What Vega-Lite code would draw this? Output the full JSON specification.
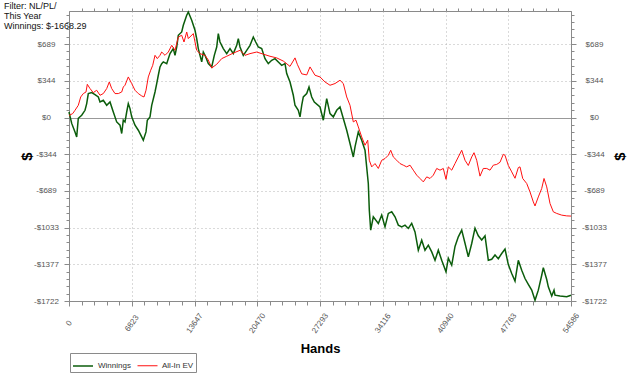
{
  "$schema": "https://vega.github.io/schema/vega-lite/v6.json",
  "width": 502,
  "height": 290,
  "autosize": {"type": "none"},
  "padding": {"left": 69, "top": 11, "right": 69, "bottom": 81},
  "background": "white",
  "title": {
    "text": ["Filter: NL/PL/", "This Year", "Winnings: $-1668.29"],
    "anchor": "start",
    "frame": "group",
    "orient": "top",
    "baseline": "bottom",
    "offset": 0,
    "dy": 32,
    "dx": -65,
    "font": "Liberation Sans",
    "fontSize": 9,
    "fontWeight": "normal",
    "color": "#111",
    "lineHeight": 10
  },
  "datasets": {
    "series": [
      {"h":0,"v":52,"s":"Winnings"},{"h":294,"v":-55,"s":"Winnings"},{"h":652,"v":-135,"s":"Winnings"},{"h":837,"v":-182,"s":"Winnings"},{"h":1011,"v":-7,"s":"Winnings"},{"h":1381,"v":22,"s":"Winnings"},{"h":1740,"v":68,"s":"Winnings"},{"h":1925,"v":131,"s":"Winnings"},{"h":2099,"v":225,"s":"Winnings"},{"h":2468,"v":234,"s":"Winnings"},{"h":2827,"v":216,"s":"Winnings"},{"h":3186,"v":193,"s":"Winnings"},{"h":3371,"v":146,"s":"Winnings"},{"h":3730,"v":162,"s":"Winnings"},{"h":4100,"v":115,"s":"Winnings"},{"h":4459,"v":146,"s":"Winnings"},{"h":4817,"v":52,"s":"Winnings"},{"h":5187,"v":-41,"s":"Winnings"},{"h":5546,"v":-72,"s":"Winnings"},{"h":5731,"v":-150,"s":"Winnings"},{"h":5905,"v":-25,"s":"Winnings"},{"h":6089,"v":-41,"s":"Winnings"},{"h":6274,"v":52,"s":"Winnings"},{"h":6448,"v":131,"s":"Winnings"},{"h":6633,"v":84,"s":"Winnings"},{"h":6818,"v":6,"s":"Winnings"},{"h":7177,"v":-72,"s":"Winnings"},{"h":7536,"v":-119,"s":"Winnings"},{"h":7905,"v":-182,"s":"Winnings"},{"h":8079,"v":-213,"s":"Winnings"},{"h":8373,"v":-135,"s":"Winnings"},{"h":8514,"v":-25,"s":"Winnings"},{"h":8808,"v":6,"s":"Winnings"},{"h":8993,"v":115,"s":"Winnings"},{"h":9352,"v":240,"s":"Winnings"},{"h":9537,"v":319,"s":"Winnings"},{"h":9711,"v":397,"s":"Winnings"},{"h":9895,"v":475,"s":"Winnings"},{"h":10080,"v":506,"s":"Winnings"},{"h":10254,"v":522,"s":"Winnings"},{"h":10624,"v":506,"s":"Winnings"},{"h":10983,"v":600,"s":"Winnings"},{"h":11341,"v":647,"s":"Winnings"},{"h":11526,"v":584,"s":"Winnings"},{"h":11711,"v":662,"s":"Winnings"},{"h":11885,"v":772,"s":"Winnings"},{"h":12255,"v":803,"s":"Winnings"},{"h":12429,"v":866,"s":"Winnings"},{"h":12799,"v":960,"s":"Winnings"},{"h":12973,"v":990,"s":"Winnings"},{"h":13343,"v":913,"s":"Winnings"},{"h":13701,"v":819,"s":"Winnings"},{"h":13886,"v":741,"s":"Winnings"},{"h":14060,"v":647,"s":"Winnings"},{"h":14245,"v":584,"s":"Winnings"},{"h":14430,"v":522,"s":"Winnings"},{"h":14604,"v":615,"s":"Winnings"},{"h":14789,"v":584,"s":"Winnings"},{"h":15148,"v":506,"s":"Winnings"},{"h":15517,"v":475,"s":"Winnings"},{"h":15800,"v":584,"s":"Winnings"},{"h":16061,"v":662,"s":"Winnings"},{"h":16235,"v":788,"s":"Winnings"},{"h":16420,"v":709,"s":"Winnings"},{"h":16779,"v":647,"s":"Winnings"},{"h":17148,"v":600,"s":"Winnings"},{"h":17507,"v":647,"s":"Winnings"},{"h":17866,"v":600,"s":"Winnings"},{"h":18236,"v":678,"s":"Winnings"},{"h":18410,"v":741,"s":"Winnings"},{"h":18595,"v":662,"s":"Winnings"},{"h":18953,"v":584,"s":"Winnings"},{"h":19323,"v":631,"s":"Winnings"},{"h":19682,"v":678,"s":"Winnings"},{"h":20041,"v":756,"s":"Winnings"},{"h":20302,"v":709,"s":"Winnings"},{"h":20585,"v":662,"s":"Winnings"},{"h":20954,"v":647,"s":"Winnings"},{"h":21313,"v":553,"s":"Winnings"},{"h":21672,"v":506,"s":"Winnings"},{"h":22042,"v":537,"s":"Winnings"},{"h":22400,"v":553,"s":"Winnings"},{"h":22759,"v":522,"s":"Winnings"},{"h":23129,"v":490,"s":"Winnings"},{"h":23488,"v":506,"s":"Winnings"},{"h":23672,"v":413,"s":"Winnings"},{"h":24032,"v":334,"s":"Winnings"},{"h":24390,"v":209,"s":"Winnings"},{"h":24575,"v":115,"s":"Winnings"},{"h":24934,"v":68,"s":"Winnings"},{"h":25119,"v":6,"s":"Winnings"},{"h":25304,"v":115,"s":"Winnings"},{"h":25478,"v":193,"s":"Winnings"},{"h":25848,"v":225,"s":"Winnings"},{"h":26098,"v":287,"s":"Winnings"},{"h":26392,"v":193,"s":"Winnings"},{"h":26674,"v":146,"s":"Winnings"},{"h":27294,"v":99,"s":"Winnings"},{"h":27653,"v":-25,"s":"Winnings"},{"h":28022,"v":178,"s":"Winnings"},{"h":28381,"v":37,"s":"Winnings"},{"h":28740,"v":6,"s":"Winnings"},{"h":29110,"v":68,"s":"Winnings"},{"h":29469,"v":99,"s":"Winnings"},{"h":29828,"v":-9,"s":"Winnings"},{"h":30197,"v":-119,"s":"Winnings"},{"h":30556,"v":-244,"s":"Winnings"},{"h":30915,"v":-370,"s":"Winnings"},{"h":31100,"v":-276,"s":"Winnings"},{"h":31459,"v":-135,"s":"Winnings"},{"h":31828,"v":-213,"s":"Winnings"},{"h":32187,"v":-307,"s":"Winnings"},{"h":32546,"v":-619,"s":"Winnings"},{"h":32655,"v":-870,"s":"Winnings"},{"h":32807,"v":-1057,"s":"Winnings"},{"h":33090,"v":-932,"s":"Winnings"},{"h":33634,"v":-994,"s":"Winnings"},{"h":34003,"v":-916,"s":"Winnings"},{"h":34362,"v":-1026,"s":"Winnings"},{"h":34721,"v":-900,"s":"Winnings"},{"h":35091,"v":-885,"s":"Winnings"},{"h":35449,"v":-932,"s":"Winnings"},{"h":35808,"v":-1010,"s":"Winnings"},{"h":36178,"v":-1026,"s":"Winnings"},{"h":36537,"v":-1010,"s":"Winnings"},{"h":36895,"v":-1041,"s":"Winnings"},{"h":37265,"v":-994,"s":"Winnings"},{"h":37624,"v":-1073,"s":"Winnings"},{"h":37983,"v":-1245,"s":"Winnings"},{"h":38353,"v":-1151,"s":"Winnings"},{"h":38711,"v":-1245,"s":"Winnings"},{"h":39070,"v":-1198,"s":"Winnings"},{"h":39440,"v":-1261,"s":"Winnings"},{"h":39799,"v":-1340,"s":"Winnings"},{"h":40158,"v":-1245,"s":"Winnings"},{"h":40527,"v":-1339,"s":"Winnings"},{"h":40995,"v":-1448,"s":"Winnings"},{"h":41245,"v":-1320,"s":"Winnings"},{"h":41615,"v":-1386,"s":"Winnings"},{"h":41974,"v":-1210,"s":"Winnings"},{"h":42333,"v":-1120,"s":"Winnings"},{"h":42702,"v":-1057,"s":"Winnings"},{"h":43061,"v":-1180,"s":"Winnings"},{"h":43420,"v":-1308,"s":"Winnings"},{"h":43790,"v":-1182,"s":"Winnings"},{"h":44148,"v":-1038,"s":"Winnings"},{"h":44507,"v":-1110,"s":"Winnings"},{"h":44877,"v":-1150,"s":"Winnings"},{"h":45236,"v":-1110,"s":"Winnings"},{"h":45595,"v":-1339,"s":"Winnings"},{"h":45964,"v":-1330,"s":"Winnings"},{"h":46323,"v":-1290,"s":"Winnings"},{"h":46682,"v":-1325,"s":"Winnings"},{"h":47052,"v":-1276,"s":"Winnings"},{"h":47411,"v":-1235,"s":"Winnings"},{"h":47770,"v":-1380,"s":"Winnings"},{"h":48140,"v":-1464,"s":"Winnings"},{"h":48498,"v":-1535,"s":"Winnings"},{"h":48857,"v":-1340,"s":"Winnings"},{"h":49227,"v":-1433,"s":"Winnings"},{"h":49585,"v":-1511,"s":"Winnings"},{"h":49944,"v":-1565,"s":"Winnings"},{"h":50314,"v":-1620,"s":"Winnings"},{"h":50673,"v":-1715,"s":"Winnings"},{"h":51032,"v":-1620,"s":"Winnings"},{"h":51402,"v":-1480,"s":"Winnings"},{"h":51576,"v":-1410,"s":"Winnings"},{"h":51946,"v":-1520,"s":"Winnings"},{"h":52120,"v":-1589,"s":"Winnings"},{"h":52490,"v":-1675,"s":"Winnings"},{"h":52739,"v":-1620,"s":"Winnings"},{"h":52848,"v":-1667,"s":"Winnings"},{"h":53391,"v":-1676,"s":"Winnings"},{"h":54120,"v":-1682,"s":"Winnings"},{"h":54586,"v":-1668.29,"s":"Winnings"},
      {"h":0,"v":20,"s":"All-In EV"},{"h":402,"v":37,"s":"All-In EV"},{"h":652,"v":68,"s":"All-In EV"},{"h":1011,"v":115,"s":"All-In EV"},{"h":1273,"v":193,"s":"All-In EV"},{"h":1555,"v":225,"s":"All-In EV"},{"h":1849,"v":240,"s":"All-In EV"},{"h":1990,"v":312,"s":"All-In EV"},{"h":2284,"v":272,"s":"All-In EV"},{"h":2642,"v":234,"s":"All-In EV"},{"h":3012,"v":256,"s":"All-In EV"},{"h":3371,"v":209,"s":"All-In EV"},{"h":3730,"v":225,"s":"All-In EV"},{"h":4100,"v":272,"s":"All-In EV"},{"h":4382,"v":334,"s":"All-In EV"},{"h":4643,"v":272,"s":"All-In EV"},{"h":5002,"v":225,"s":"All-In EV"},{"h":5361,"v":225,"s":"All-In EV"},{"h":5731,"v":240,"s":"All-In EV"},{"h":5905,"v":287,"s":"All-In EV"},{"h":6089,"v":303,"s":"All-In EV"},{"h":6448,"v":381,"s":"All-In EV"},{"h":6818,"v":319,"s":"All-In EV"},{"h":7177,"v":256,"s":"All-In EV"},{"h":7536,"v":225,"s":"All-In EV"},{"h":7905,"v":203,"s":"All-In EV"},{"h":8155,"v":193,"s":"All-In EV"},{"h":8373,"v":256,"s":"All-In EV"},{"h":8623,"v":381,"s":"All-In EV"},{"h":8884,"v":444,"s":"All-In EV"},{"h":9102,"v":490,"s":"All-In EV"},{"h":9352,"v":584,"s":"All-In EV"},{"h":9602,"v":553,"s":"All-In EV"},{"h":9895,"v":584,"s":"All-In EV"},{"h":10080,"v":615,"s":"All-In EV"},{"h":10439,"v":584,"s":"All-In EV"},{"h":10798,"v":615,"s":"All-In EV"},{"h":11168,"v":678,"s":"All-In EV"},{"h":11526,"v":631,"s":"All-In EV"},{"h":11885,"v":756,"s":"All-In EV"},{"h":12255,"v":772,"s":"All-In EV"},{"h":12505,"v":709,"s":"All-In EV"},{"h":12799,"v":803,"s":"All-In EV"},{"h":12973,"v":741,"s":"All-In EV"},{"h":13516,"v":788,"s":"All-In EV"},{"h":13886,"v":631,"s":"All-In EV"},{"h":14245,"v":600,"s":"All-In EV"},{"h":14789,"v":584,"s":"All-In EV"},{"h":15148,"v":540,"s":"All-In EV"},{"h":15517,"v":465,"s":"All-In EV"},{"h":16061,"v":500,"s":"All-In EV"},{"h":16605,"v":553,"s":"All-In EV"},{"h":17148,"v":575,"s":"All-In EV"},{"h":17866,"v":605,"s":"All-In EV"},{"h":18595,"v":631,"s":"All-In EV"},{"h":19138,"v":584,"s":"All-In EV"},{"h":19682,"v":600,"s":"All-In EV"},{"h":20411,"v":615,"s":"All-In EV"},{"h":21128,"v":595,"s":"All-In EV"},{"h":21857,"v":575,"s":"All-In EV"},{"h":22585,"v":560,"s":"All-In EV"},{"h":23303,"v":530,"s":"All-In EV"},{"h":24032,"v":480,"s":"All-In EV"},{"h":24575,"v":560,"s":"All-In EV"},{"h":24825,"v":500,"s":"All-In EV"},{"h":25304,"v":410,"s":"All-In EV"},{"h":25848,"v":400,"s":"All-In EV"},{"h":26207,"v":475,"s":"All-In EV"},{"h":26750,"v":397,"s":"All-In EV"},{"h":27294,"v":381,"s":"All-In EV"},{"h":27837,"v":334,"s":"All-In EV"},{"h":28381,"v":303,"s":"All-In EV"},{"h":28925,"v":319,"s":"All-In EV"},{"h":29469,"v":350,"s":"All-In EV"},{"h":29828,"v":319,"s":"All-In EV"},{"h":30197,"v":193,"s":"All-In EV"},{"h":30556,"v":115,"s":"All-In EV"},{"h":30915,"v":-41,"s":"All-In EV"},{"h":31208,"v":-25,"s":"All-In EV"},{"h":31459,"v":-88,"s":"All-In EV"},{"h":31828,"v":-182,"s":"All-In EV"},{"h":32187,"v":-260,"s":"All-In EV"},{"h":32481,"v":-213,"s":"All-In EV"},{"h":32655,"v":-401,"s":"All-In EV"},{"h":32916,"v":-463,"s":"All-In EV"},{"h":33274,"v":-432,"s":"All-In EV"},{"h":33634,"v":-478,"s":"All-In EV"},{"h":34003,"v":-401,"s":"All-In EV"},{"h":34362,"v":-385,"s":"All-In EV"},{"h":34721,"v":-354,"s":"All-In EV"},{"h":34982,"v":-307,"s":"All-In EV"},{"h":35265,"v":-370,"s":"All-In EV"},{"h":35634,"v":-401,"s":"All-In EV"},{"h":35993,"v":-432,"s":"All-In EV"},{"h":36352,"v":-447,"s":"All-In EV"},{"h":36721,"v":-463,"s":"All-In EV"},{"h":37080,"v":-447,"s":"All-In EV"},{"h":37439,"v":-494,"s":"All-In EV"},{"h":37809,"v":-541,"s":"All-In EV"},{"h":38168,"v":-572,"s":"All-In EV"},{"h":38527,"v":-604,"s":"All-In EV"},{"h":38896,"v":-557,"s":"All-In EV"},{"h":39255,"v":-572,"s":"All-In EV"},{"h":39614,"v":-541,"s":"All-In EV"},{"h":39984,"v":-478,"s":"All-In EV"},{"h":40343,"v":-494,"s":"All-In EV"},{"h":40701,"v":-478,"s":"All-In EV"},{"h":40995,"v":-580,"s":"All-In EV"},{"h":41245,"v":-463,"s":"All-In EV"},{"h":41615,"v":-494,"s":"All-In EV"},{"h":41974,"v":-432,"s":"All-In EV"},{"h":42333,"v":-370,"s":"All-In EV"},{"h":42702,"v":-307,"s":"All-In EV"},{"h":43061,"v":-401,"s":"All-In EV"},{"h":43420,"v":-450,"s":"All-In EV"},{"h":43790,"v":-370,"s":"All-In EV"},{"h":44040,"v":-330,"s":"All-In EV"},{"h":44333,"v":-401,"s":"All-In EV"},{"h":44692,"v":-550,"s":"All-In EV"},{"h":45051,"v":-478,"s":"All-In EV"},{"h":45421,"v":-478,"s":"All-In EV"},{"h":45780,"v":-494,"s":"All-In EV"},{"h":46139,"v":-447,"s":"All-In EV"},{"h":46508,"v":-440,"s":"All-In EV"},{"h":46867,"v":-420,"s":"All-In EV"},{"h":47226,"v":-345,"s":"All-In EV"},{"h":47411,"v":-354,"s":"All-In EV"},{"h":47770,"v":-450,"s":"All-In EV"},{"h":48140,"v":-510,"s":"All-In EV"},{"h":48498,"v":-570,"s":"All-In EV"},{"h":48857,"v":-470,"s":"All-In EV"},{"h":49042,"v":-463,"s":"All-In EV"},{"h":49336,"v":-572,"s":"All-In EV"},{"h":49770,"v":-619,"s":"All-In EV"},{"h":50129,"v":-698,"s":"All-In EV"},{"h":50488,"v":-792,"s":"All-In EV"},{"h":50673,"v":-830,"s":"All-In EV"},{"h":51032,"v":-745,"s":"All-In EV"},{"h":51402,"v":-666,"s":"All-In EV"},{"h":51652,"v":-572,"s":"All-In EV"},{"h":51946,"v":-651,"s":"All-In EV"},{"h":52305,"v":-807,"s":"All-In EV"},{"h":52664,"v":-885,"s":"All-In EV"},{"h":53033,"v":-900,"s":"All-In EV"},{"h":53576,"v":-916,"s":"All-In EV"},{"h":54120,"v":-923,"s":"All-In EV"},{"h":54586,"v":-925,"s":"All-In EV"}
    ]
  },
  "data": {"name": "series"},
  "config": {
    "view": {"stroke": "#8a8a8a", "strokeWidth": 1},
    "axis": {
      "domainColor": "#8a8a8a",
      "tickColor": "#8a8a8a",
      "labelColor": "#555",
      "labelFont": "Liberation Sans",
      "labelFontSize": 8,
      "titleFont": "Liberation Sans",
      "titleColor": "#000",
      "titleFontWeight": "bold",
      "gridColor": "#b5b5b5",
      "labelOverlap": false,
      "labelFlush": false
    }
  },
  "resolve": {"axis": {"x": "independent", "y": "independent"}},
  "layer": [
    {
      "mark": {"type": "line", "interpolate": "linear"},
      "encoding": {
        "x": {
          "field": "h", "type": "quantitative",
          "scale": {"domain": [0, 54586], "nice": false, "zero": false},
          "axis": {
            "orient": "bottom",
            "title": "Hands",
            "titleFontSize": 13,
            "titlePadding": 8,
            "values": [0,1364.65,2729.3,4093.95,5458.6,6823.25,8187.9,9552.55,10917.2,12281.85,13646.5,15011.15,16375.8,17740.45,19105.1,20469.75,21834.4,23199.05,24563.7,25928.35,27293,28657.65,30022.3,31386.95,32751.6,34116.25,35480.9,36845.55,38210.2,39574.85,40939.5,42304.15,43668.8,45033.45,46398.1,47762.75,49127.4,50492.05,51856.7,53221.35,54586],
            "labelExpr": "abs(datum.value/6823.25 - round(datum.value/6823.25)) < 0.001 ? '' + round(datum.value) : ''",
            "labelAngle": -55,
            "labelAlign": "center",
            "labelBaseline": "middle",
            "labelPadding": 17,
            "tickSize": {"condition": {"test": "abs(datum.value/6823.25 - round(datum.value/6823.25)) < 0.001", "value": 5}, "value": 4},
            "grid": true,
            "gridDash": [1, 3],
            "gridOpacity": {"condition": {"test": "abs(datum.value/6823.25 - round(datum.value/6823.25)) < 0.001 && datum.value > 0 && datum.value < 54586", "value": 1}, "value": 0}
          }
        },
        "y": {
          "field": "v", "type": "quantitative",
          "scale": {"domain": [-1722, 1000], "nice": false, "zero": false},
          "axis": {
            "orient": "left",
            "title": "$",
            "titleFontSize": 15,
            "titleAngle": -90,
            "titlePadding": -1,
            "values": [-1722,-1653,-1584,-1515,-1446,-1377,-1308,-1239,-1171,-1102,-1033,-964,-895,-827,-758,-689,-620,-551,-482,-413,-344,-275,-207,-138,-69,0,69,138,207,275,344,413,482,551,620,689,758,827,895,964],
            "labelExpr": "indexof([-1722,-1377,-1033,-689,-344,0,344,689], datum.value) >= 0 ? (datum.value < 0 ? '-$' + (-datum.value) : '$' + datum.value) : ''",
            "labelAlign": "center",
            "labelPadding": 18,
            "tickSize": {"condition": {"test": "indexof([-1722,-1377,-1033,-689,-344,0,344,689], datum.value) >= 0", "value": 5}, "value": 3},
            "grid": true,
            "gridDash": {"condition": {"test": "datum.value === 0", "value": []}, "value": [1, 3]},
            "gridColor": {"condition": {"test": "datum.value === 0", "value": "#999999"}, "value": "#b5b5b5"},
            "gridOpacity": {"condition": {"test": "indexof([-1377,-1033,-689,-344,0,344,689], datum.value) >= 0", "value": 1}, "value": 0}
          }
        },
        "color": {
          "field": "s", "type": "nominal",
          "scale": {"domain": ["Winnings", "All-In EV"], "range": ["#0b5d0b", "#ff1010"]},
          "legend": {
            "orient": "none",
            "legendX": 1,
            "legendY": 342,
            "direction": "horizontal",
            "title": null,
            "symbolType": "stroke",
            "symbolStrokeWidth": 1.2,
            "symbolSize": 400,
            "strokeColor": "#8a8a8a",
            "fillColor": "white",
            "padding": 2,
            "labelFont": "Liberation Sans",
            "labelFontSize": 8,
            "labelColor": "#333",
            "columnPadding": 4
          }
        },
        "strokeWidth": {
          "field": "s", "type": "nominal",
          "scale": {"domain": ["Winnings", "All-In EV"], "range": [1.5, 1]},
          "legend": null
        }
      }
    },
    {
      "mark": {"type": "line", "opacity": 0},
      "encoding": {
        "x": {
          "field": "h", "type": "quantitative",
          "axis": {
            "orient": "top",
            "title": null,
            "labels": false,
            "grid": false,
            "domain": false,
            "values": [1364.65,2729.3,4093.95,5458.6,6823.25,8187.9,9552.55,10917.2,12281.85,13646.5,15011.15,16375.8,17740.45,19105.1,20469.75,21834.4,23199.05,24563.7,25928.35,27293,28657.65,30022.3,31386.95,32751.6,34116.25,35480.9,36845.55,38210.2,39574.85,40939.5,42304.15,43668.8,45033.45,46398.1,47762.75,49127.4,50492.05,51856.7,53221.35],
            "tickSize": 3
          }
        },
        "y": {
          "field": "v", "type": "quantitative",
          "axis": {
            "orient": "right",
            "title": "$",
            "titleFontSize": 15,
            "titleAngle": -90,
            "titlePadding": 21,
            "values": [-1722,-1653,-1584,-1515,-1446,-1377,-1308,-1239,-1171,-1102,-1033,-964,-895,-827,-758,-689,-620,-551,-482,-413,-344,-275,-207,-138,-69,0,69,138,207,275,344,413,482,551,620,689,758,827,895,964],
            "labelExpr": "indexof([-1722,-1377,-1033,-689,-344,0,344,689], datum.value) >= 0 ? (datum.value < 0 ? '-$' + (-datum.value) : '$' + datum.value) : ''",
            "labelAlign": "center",
            "labelPadding": 18,
            "tickSize": {"condition": {"test": "indexof([-1722,-1377,-1033,-689,-344,0,344,689], datum.value) >= 0", "value": 5}, "value": 3},
            "grid": false
          }
        }
      }
    }
  ]
}
